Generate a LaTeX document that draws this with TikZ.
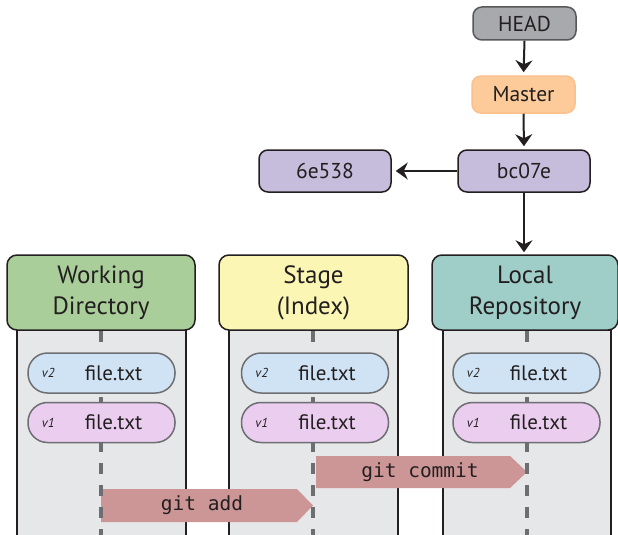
\documentclass[tikz,border=0pt]{standalone}
\usepackage{fontspec}
\setmainfont{PT Sans}
\setmonofont{DejaVu Sans Mono}
\usetikzlibrary{arrows.meta}

\definecolor{inkdark}{HTML}{231F20}
\definecolor{penGray}{HTML}{6D6E71}
\definecolor{colbg}{HTML}{E6E7E8}
\definecolor{wdgreen}{HTML}{A9CE99}
\definecolor{stageyellow}{HTML}{FBF6B3}
\definecolor{repoteal}{HTML}{9ECEC7}
\definecolor{headgray}{HTML}{A7A9AC}
\definecolor{masterorange}{HTML}{FDCB9A}
\definecolor{masteredge}{HTML}{FBC08C}
\definecolor{commitpurple}{HTML}{C6BDDC}
\definecolor{pillblue}{HTML}{CFE3F4}
\definecolor{pillpink}{HTML}{EBCDEF}
\definecolor{cmdrose}{HTML}{CD9696}

\tikzset{
  column/.style={draw=inkdark, line width=1.5pt, fill=colbg, inner sep=0pt},
  areahead/.style={draw=inkdark, line width=1.5pt, rounded corners=10pt, inner sep=0pt,
    align=center, font=\fontsize{25}{31}\selectfont, text=inkdark},
  refbox/.style={rounded corners=9pt, inner sep=0pt, line width=1.5pt,
    font=\fontsize{21.5}{24}\selectfont, text=inkdark},
  pill/.style={draw=penGray, line width=1.5pt, rounded corners=19.5pt, inner sep=0pt,
    minimum height=40pt},
  fname/.style={font=\fontsize{21}{24}\selectfont, text=inkdark, inner sep=0pt},
  vtag/.style={font=\fontsize{13}{15}\selectfont\itshape, text=inkdark, inner sep=0pt},
  dashline/.style={draw=penGray, line width=4pt, dash pattern=on 11pt off 11pt},
  ptr/.style={draw=inkdark, line width=2pt, -{Stealth[length=12pt, width=17pt, inset=4pt]}},
  cmdbody/.style={fill=cmdrose},
  cmdtext/.style={font=\ttfamily\fontsize{19.5}{22}\selectfont, text=inkdark, inner sep=0pt},
}

\begin{document}
\begin{tikzpicture}[x=1pt, y=-1pt]
\clip (0,0) rectangle (618,535);

% grey columns below each area heading
\node[column, minimum width=169pt, minimum height=215pt] (wdcol) at (101.5,437.5) {};
\node[column, minimum width=169pt, minimum height=215pt] (stcol) at (313.5,437.5) {};
\node[column, minimum width=168pt, minimum height=215pt] (lrcol) at (527,437.5) {};

% command arrows
\fill[cmdbody] (101,489) -- (297,489) -- (313,505.5) -- (297,522) -- (101,522) -- cycle;
\node[cmdtext] (gitadd) at (202,505.5) {git add};
\fill[cmdbody] (316,456) -- (510,456) -- (527,472) -- (510,488) -- (316,488) -- cycle;
\node[cmdtext] (gitcommit) at (420,472) {git commit};

% area headings
\node[areahead, fill=wdgreen, minimum width=188pt, minimum height=75pt] (wdhead) at (101,292.5) {Working\\Directory};
\node[areahead, fill=stageyellow, minimum width=189pt, minimum height=75pt] (sthead) at (313.5,292.5) {Stage\\(Index)};
\node[areahead, fill=repoteal, minimum width=186pt, minimum height=75pt] (lrhead) at (525,292.5) {Local\\Repository};

% dashed centre lines
\coordinate (wdbot) at (101,540);
\coordinate (stbot) at (313,540);
\coordinate (lrbot) at (527,540);
\draw[dashline] (101,331) -- (wdbot);
\draw[dashline] (313,331) -- (stbot);
\draw[dashline] (527,331) -- (lrbot);

% file versions in each area
\foreach \nm/\cx in {wd/101.5, st/315, lr/526.5}{
  \node[pill, fill=pillblue, minimum width=147pt] (\nm two) at (\cx,373) {};
  \node[vtag] at ([xshift=21pt]\nm two.west) {v2};
  \node[fname] at ([xshift=12pt]\nm two.center) {file.txt};
  \node[pill, fill=pillpink, minimum width=147pt] (\nm one) at (\cx,422.5) {};
  \node[vtag] at ([xshift=21pt]\nm one.west) {v1};
  \node[fname] at ([xshift=12pt]\nm one.center) {file.txt};
}

% references and commits
\node[refbox, draw=penGray!80!black, fill=headgray, minimum width=103pt, minimum height=33pt] (head) at (524.5,23.5) {HEAD};
\node[refbox, draw=masteredge, fill=masterorange, minimum width=103pt, minimum height=37pt] (master) at (523.5,94.5) {Master};
\node[refbox, draw=inkdark, fill=commitpurple, minimum width=132pt, minimum height=42pt] (bc) at (524,171) {bc07e};
\node[refbox, draw=inkdark, fill=commitpurple, minimum width=132pt, minimum height=42pt] (old) at (325,171) {6e538};

\draw[ptr, shorten >=3pt] (head.south) -- (master.north);
\draw[ptr, shorten >=3pt] (master.south) -- (bc.north);
\draw[ptr, shorten >=4pt] (bc.west) -- (old.east);
\draw[ptr, shorten >=2pt] (bc.south) -- (bc.south |- lrhead.north);
\end{tikzpicture}
\end{document}
